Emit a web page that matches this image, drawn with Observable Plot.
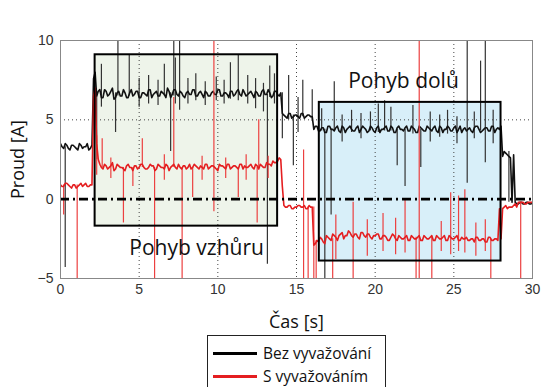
<!DOCTYPE html>
<html><head><meta charset="utf-8">
<script src="https://cdn.jsdelivr.net/npm/d3@7"></script>
<script src="https://cdn.jsdelivr.net/npm/@observablehq/plot@0.6"></script>
<style>
body{margin:0;background:#fff;}
#wrap{position:relative;width:544px;height:387px;overflow:hidden;font-family:"Open Sans",Lato,sans-serif;}
#legend{position:absolute;left:207px;top:335px;width:177px;height:60px;border:1px solid #222;background:#fff;}
.row{position:absolute;left:5px;height:20px;display:flex;align-items:center;font-size:15.5px;color:#111;white-space:nowrap;}
.sw{display:inline-block;width:44px;height:3px;margin-right:6px;}
</style></head><body>
<div id="wrap"><div id="chart"></div>
<div id="legend">
<div class="row" style="top:7px"><span class="sw" style="background:#000"></span><span id="l0"></span></div>
<div class="row" style="top:30px"><span class="sw" style="background:#e41e20"></span><span id="l1"></span></div>
</div></div>
<script>
// ---- data ----
const seriesNames = ["Bez vyvažování", "S vyvažováním"];
const dt = 0.2; // spacing of read-off samples [s]; *Even at 0,0.2,..; *Odd at 0.1,0.3,..
const blackEven = [
3.5,3.2,3.4,3.1,3.4,3.2,3.5,3.2,3.3,3.1,3.4,
8.0,
6.8,6.4,6.9,6.5,6.8,6.3,6.7,6.5,6.9,6.4,
6.7,6.5,6.8,6.4,6.7,6.6,6.9,6.4,6.7,6.5,
6.8,6.6,7.0,6.4,6.9,6.6,6.8,6.5,6.7,6.6,
6.9,6.5,6.7,6.6,6.8,6.5,6.7,6.6,6.9,6.5,
6.7,6.6,6.8,6.5,6.8,6.6,6.9,6.5,6.7,6.6,
6.8,6.5,6.8,6.6,6.9,6.4,6.8,6.6,
6.7,
5.3,5.1,5.4,5.2,5.3,5.1,5.4,5.2,5.3,5.2,
4.6,4.3,4.5,4.2,4.6,4.4,4.3,4.6,4.2,4.5,
4.4,4.6,4.3,4.5,4.2,4.6,4.4,4.3,4.5,4.2,
4.6,4.4,4.5,4.3,4.6,4.2,4.5,4.4,4.3,4.6,
4.3,4.5,4.2,4.6,4.4,4.3,4.5,4.3,4.6,4.2,
4.5,4.4,4.6,4.3,4.5,4.2,4.6,4.4,4.3,4.5,
4.2,4.6,4.4,4.3,4.5,4.3,4.6,4.2,4.5,4.6,
3.0,
2.8,2.6,2.8,
-0.3,-0.2,-0.3,-0.2,-0.3,-0.2
];
const blackOdd = [
3.3,3.5,3.2,3.4,3.3,3.1,3.4,3.3,3.5,3.2,
7.6,
6.5,6.9,6.4,6.8,6.6,7.0,6.4,6.8,6.5,6.7,
6.4,6.9,6.6,6.8,6.4,6.7,6.5,6.9,6.6,6.8,
6.5,6.7,6.4,6.8,6.6,6.9,6.5,6.7,6.4,6.8,
6.6,6.9,6.5,6.8,6.4,6.7,6.5,6.8,6.6,6.9,
6.5,6.7,6.4,6.8,6.6,6.9,6.5,6.7,6.6,6.8,
6.4,6.7,6.5,6.9,6.6,6.7,6.5,6.8,
6.5,
5.4,
5.2,5.4,5.1,5.3,5.2,5.4,5.1,5.3,5.2,
4.4,4.6,4.3,4.5,4.2,4.6,4.4,4.5,4.3,4.6,
4.2,4.5,4.4,4.3,4.6,4.4,4.5,4.2,4.6,4.3,
4.5,4.2,4.4,4.6,4.3,4.5,4.2,4.6,4.4,4.5,
4.3,4.6,4.4,4.2,4.5,4.3,4.6,4.4,4.5,4.3,
4.6,4.2,4.4,4.5,4.3,4.6,4.4,4.2,4.5,4.4,
4.3,4.5,4.6,4.2,4.4,4.5,4.3,4.6,4.4,4.4,
2.7,2.9,2.7,-0.2,
-0.2,-0.3,-0.2,-0.3,-0.2,-0.3
];
const redEven = [
0.9,0.8,1.0,0.8,0.9,0.7,0.9,0.8,1.0,0.8,
0.9,
7.0,
2.5,
2.0,2.2,1.9,2.1,1.8,2.2,2.0,1.9,2.1,2.0,
1.8,2.1,2.0,2.2,1.9,2.0,2.1,1.8,2.2,2.0,
1.9,2.1,2.0,2.2,1.9,2.0,2.1,1.9,2.2,2.0,
2.1,1.9,2.0,2.2,1.9,2.1,2.0,1.8,2.1,2.0,
2.2,1.9,2.1,2.0,2.2,1.9,2.0,2.1,2.0,2.2,
1.9,2.1,2.0,2.2,2.1,2.3,
2.4,
2.5,
-0.4,-0.5,-0.4,-0.6,-0.5,-0.4,-0.5,-0.6,-0.4,-0.5,
-2.8,
-2.7,-2.5,-2.8,-2.4,-2.6,-2.3,-2.6,-2.2,-2.5,-2.3,
-2.1,-2.4,-2.2,-2.5,-2.1,-2.4,-2.2,-2.5,-2.3,-2.2,
-2.5,-2.3,-2.6,-2.4,-2.3,-2.6,-2.4,-2.5,-2.3,-2.6,
-2.4,-2.5,-2.3,-2.6,-2.4,-2.5,-2.3,-2.6,-2.4,-2.5,
-2.3,-2.6,-2.4,-2.5,-2.3,-2.6,-2.5,-2.4,-2.6,-2.5,
-2.4,-2.6,-2.5,-2.7,-2.4,-2.6,-2.5,-2.6,-2.5,
-0.5,-0.6,-0.5,-0.4,-0.5,
-0.2,-0.2,-0.3,-0.2,-0.2
];
const redOdd = [
0.8,1.0,0.9,0.7,0.9,0.8,1.0,0.9,0.8,0.9,
6.5,
3.5,
2.2,1.9,2.1,2.0,2.3,1.9,2.1,2.0,1.8,2.2,
2.0,2.1,1.9,2.2,2.0,1.9,2.2,2.1,1.9,2.1,
2.0,2.2,1.8,2.1,2.0,2.2,1.9,2.1,2.0,1.9,
2.2,2.0,2.1,1.9,2.2,2.0,2.1,1.9,2.2,2.1,
1.9,2.2,2.0,2.1,1.9,2.2,2.1,2.0,2.2,1.9,
2.1,2.2,2.0,2.3,2.2,2.4,
2.3,
2.6,
0.8,
-0.5,-0.4,-0.6,-0.5,-0.4,-0.5,-0.4,-0.6,-0.5,
-2.9,-2.6,-2.4,-2.7,-2.3,-2.5,-2.2,-2.4,-2.3,-2.1,
-2.3,-2.0,-2.3,-2.2,-2.4,-2.1,-2.3,-2.2,-2.4,-2.3,
-2.2,-2.5,-2.3,-2.4,-2.6,-2.2,-2.5,-2.3,-2.5,-2.4,
-2.6,-2.3,-2.5,-2.4,-2.6,-2.3,-2.5,-2.4,-2.6,-2.3,
-2.5,-2.4,-2.6,-2.3,-2.5,-2.4,-2.6,-2.4,-2.5,-2.6,
-2.5,-2.7,-2.4,-2.6,-2.5,-2.7,-2.4,-2.6,-2.5,-0.6,
-0.6,-0.4,-0.5,-0.5,
-0.3,-0.2,-0.2,-0.3,-0.2,-0.2
];
// spikes: time, low end, high end
const blackSpikeT  = [0.3,2.3,2.6,3.5,3.65,4.37,5.0,5.6,6.2,6.6,7.0,7.2,7.3,7.57,8.1,8.6,9.2,9.9,10.4,10.8,11.3,11.9,12.4,12.9,13.15,13.3,13.6,14.1,14.5,14.8,15.1,15.4,16.0,16.6,16.8,17.2,17.4,17.9,18.5,19.1,19.7,20.2,20.6,21.0,21.4,21.9,22.4,22.9,23.5,24.1,24.6,25.2,25.85,26.3,26.7,27.0,27.5,28.5];
const blackSpikeLo = [-4.3,2.5,5.8,4.2,6.5,6.5,5.8,6.0,5.9,6.5,3.0,6.5,6.0,5.6,6.0,6.2,5.9,6.2,6.0,6.3,6.2,6.0,5.7,5.5,-4.1,6.4,6.0,3.8,5.0,2.1,4.2,5.2,4.9,4.3,-5.5,-1.0,4.3,3.6,4.2,3.8,4.3,4.2,4.3,4.3,2.1,0.8,4.1,2.0,3.6,3.9,4.1,3.5,1.0,3.8,4.3,2.3,3.5,-0.2];
const blackSpikeHi = [3.3,6.6,8.5,6.7,10.5,9.1,7.6,7.8,7.5,8.5,6.7,10.5,8.9,10.5,7.6,7.9,7.4,7.7,7.5,8.6,9.1,7.8,7.6,7.3,6.6,8.4,7.9,6.7,7.8,5.3,6.4,7.5,6.9,5.7,4.4,4.4,7.4,5.3,5.6,5.4,5.5,6.0,6.2,5.8,4.4,4.4,5.9,4.4,5.5,5.3,5.6,5.2,10.5,5.5,8.7,10.5,5.6,3.0];
const redSpikeT  = [0.2,1.06,2.3,2.65,3.2,4.0,4.6,5.2,5.98,6.6,7.2,7.73,8.4,9.0,9.75,10.5,11.3,11.8,12.5,12.6,13.2,15.45,15.74,16.1,16.25,17.3,17.5,18.6,19.5,20.5,21.3,21.9,22.6,22.8,23.6,24.2,24.8,25.3,25.7,26.4,27.0,27.35,29.25];
const redSpikeLo = [-1.0,-5.5,1.5,2.0,1.3,-1.5,0.8,2.0,-5.5,1.2,2.0,-5.5,0.1,1.2,-0.8,1.3,0.1,1.2,-1.5,2.0,1.3,-5.5,-5.5,-5.5,-5.5,-5.5,-3.8,-5.5,-3.6,-3.3,-3.5,-3.4,-5.5,-5.5,-5.5,-3.3,-3.5,-3.3,-3.4,-3.6,-3.3,-5.5,-5.5];
const redSpikeHi = [0.9,0.9,4.0,3.8,2.6,2.0,2.0,3.8,2.0,2.8,6.4,2.0,2.0,2.7,10.5,2.6,2.0,2.8,2.0,5.0,2.7,3.1,-0.5,-0.5,-2.6,-2.5,-1.0,-0.2,-1.3,-0.9,-1.2,0.0,-2.4,10.5,-2.4,-1.4,0.4,0.2,0.6,-1.5,-1.3,-2.5,-0.2];
// highlighted regions
const regionX1 = [2.2, 16.45];
const regionX2 = [13.8, 28.0];
const regionY1 = [-1.7, -3.9];
const regionY2 = [9.1, 6.1];
const regionLabels = ["Pohyb vzhůru", "Pohyb dolů"];
const regionLabelX = [8.65, 21.8];
const regionLabelY = [-3.1, 7.45];
const xTicks = [0, 5, 10, 15, 20, 25, 30];
const yTicks = [-5, 0, 5, 10];
const xLabel = "Čas [s]";
const yLabel = "Proud [A]";

// ---- build ----
function interleave(even, odd) {
  const out = [];
  even.forEach((v, i) => {
    out.push({t: i * dt, v});
    if (i < odd.length) out.push({t: i * dt + dt / 2, v: odd[i]});
  });
  return out;
}
const black = interleave(blackEven, blackOdd);
const red = interleave(redEven, redOdd);
const bIdx = d3.range(blackSpikeT.length);
const rIdx = d3.range(redSpikeT.length);
const gIdx = d3.range(regionX1.length);
const regionFill = ["#eef4ea", "#d8eff9"];
const sans = "'Open Sans', Lato, sans-serif";

const chart = Plot.plot({
  width: 544, height: 387,
  marginLeft: 60, marginRight: 12, marginTop: 40, marginBottom: 109,
  style: {fontFamily: "'Liberation Sans', Arial, sans-serif", fontSize: "14px", color: "#333", background: "#fff"},
  x: {domain: [0, 30], ticks: xTicks, tickSize: 0, tickPadding: 6, label: null},
  y: {domain: [-5, 10], ticks: yTicks, tickSize: 0, tickPadding: 7, label: null},
  marks: [
    Plot.rect(gIdx, {x1: i => regionX1[i], x2: i => regionX2[i], y1: i => regionY1[i], y2: i => regionY2[i], fill: i => regionFill[i]}),
    Plot.ruleX(xTicks.slice(1, -1), {stroke: "#444", strokeWidth: 1, strokeDasharray: "1,3"}),
    Plot.ruleY([5], {stroke: "#444", strokeWidth: 1, strokeDasharray: "1,3"}),
    Plot.ruleX(bIdx, {x: i => blackSpikeT[i], y1: i => blackSpikeLo[i], y2: i => blackSpikeHi[i], stroke: "#333", strokeWidth: 1.2, clip: true}),
    Plot.line(black, {x: "t", y: "v", stroke: "#111", strokeWidth: 1.6, clip: true}),
    Plot.ruleX(rIdx, {x: i => redSpikeT[i], y1: i => redSpikeLo[i], y2: i => redSpikeHi[i], stroke: "#ec4040", strokeWidth: 1.2, clip: true}),
    Plot.line(red, {x: "t", y: "v", stroke: "#e41e20", strokeWidth: 1.6, clip: true}),
    Plot.ruleY([0], {stroke: "#000", strokeWidth: 2.6, strokeDasharray: "9,4,2,4"}),
    Plot.rect(gIdx, {x1: i => regionX1[i], x2: i => regionX2[i], y1: i => regionY1[i], y2: i => regionY2[i], fill: "none", stroke: "#000", strokeWidth: 2}),
    Plot.text(gIdx, {x: i => regionLabelX[i], y: i => regionLabelY[i], text: i => regionLabels[i], fontSize: 21, fill: "#111", fontFamily: sans}),
    Plot.text([yLabel], {x: 0, y: 2.5, dx: -42, rotate: -90, fontSize: 18, fill: "#111", fontFamily: sans}),
    Plot.text([xLabel], {x: 15, y: -5, dy: 44, fontSize: 18, fill: "#111", fontFamily: sans}),
    Plot.frame({stroke: "#888"})
  ]
});
document.getElementById("chart").appendChild(chart);
document.getElementById("l0").textContent = seriesNames[0];
document.getElementById("l1").textContent = seriesNames[1];
</script>
</body></html>
